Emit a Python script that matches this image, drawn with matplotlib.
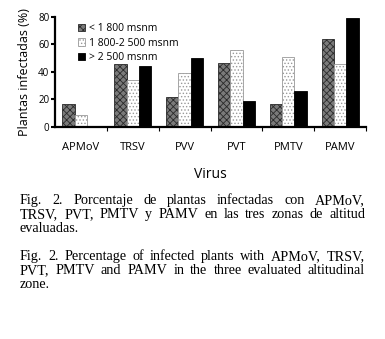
import numpy as np
import matplotlib
matplotlib.use('Agg')
import matplotlib.pyplot as plt

# data
virus = ['APMoV', 'TRSV', 'PVV', 'PVT', 'PMTV', 'PAMV']
low = [17, 45.5, 21.5, 46.5, 16.5, 64]      # < 1 800 msnm
mid = [8.5, 34, 39.5, 55.5, 50.5, 45.5]     # 1 800-2 500 msnm
high = [0, 44.5, 50, 19, 26, 79]            # > 2 500 msnm
labels = ['< 1 800 msnm', '1 800-2 500 msnm', '> 2 500 msnm']

caption_es = ['Fig. 2. Porcentaje de plantas infectadas con APMoV,',
              'TRSV, PVT, PMTV y PAMV en las tres zonas de altitud',
              'evaluadas.']
caption_en = ['Fig. 2. Percentage of infected plants with APMoV, TRSV,',
              'PVT, PMTV and PAMV in the three evaluated altitudinal',
              'zone.']

plt.rcParams['hatch.linewidth'] = 0.6
sans = 'Open Sans'
serif = 'Liberation Serif'

W, H = 385, 339
fig = plt.figure(figsize=(W/100, H/100), dpi=100)
ax = fig.add_axes([55/W, 1-127/H, 311/W, 110.3/H])

x = np.arange(len(virus))
bw = 0.237
ax.bar(x-bw, low, bw, facecolor='#7a7a7a', edgecolor='#2a2a2a', hatch='xxxxx',
       linewidth=0.6, label=labels[0])
ax.bar(x, mid, bw, facecolor='white', edgecolor='#999999', hatch='.....',
       linewidth=0.6, label=labels[1])
ax.bar(x+bw, high, bw, facecolor='black', edgecolor='black',
       linewidth=0.6, label=labels[2])

ax.set_xlim(-0.5, 5.5)
ax.set_ylim(0, 80)
ax.set_yticks([0, 20, 40, 60, 80])
ax.set_xticks(x)
ax.set_xticklabels(virus, fontsize=8, family=sans)
ax.tick_params(axis='x', length=0, pad=11)
ax.set_xticks(np.arange(0.5, 6.0, 1), minor=True)
ax.tick_params(axis='x', which='minor', length=3, width=0.8)
ax.tick_params(axis='y', length=3, width=1.5, labelsize=7, pad=1)
for t in ax.get_yticklabels():
    t.set_family(sans)
for s in ['top', 'right']:
    ax.spines[s].set_visible(False)
ax.spines['left'].set_linewidth(1.6)
ax.spines['bottom'].set_linewidth(1.6)

ax.set_ylabel('Plantas infectadas (%)', fontsize=9, family=sans, labelpad=5)
ax.set_xlabel('Virus', fontsize=10, family=sans, labelpad=10)

leg = ax.legend(loc='upper left', bbox_to_anchor=(0.06, 0.98), frameon=False,
                prop={'family': sans, 'size': 7.5}, handlelength=0.7,
                handleheight=0.7, handletextpad=0.4, labelspacing=0.35,
                borderaxespad=0)


def justified(lines, y0, dy, x0=20, x1=365, size=10.2):
    # y0 is the baseline of the first line, in pixels from the top
    r = fig.canvas.get_renderer()
    for i, line in enumerate(lines):
        y = 1 - (y0 + i*dy)/H
        words = line.split(' ')
        if i == len(lines)-1:
            fig.text(x0/W, y, line, family=serif, size=size, va='baseline')
            continue
        ts = [fig.text(0, y, w, family=serif, size=size, va='baseline') for w in words]
        widths = [t.get_window_extent(r).width for t in ts]
        gap = (x1 - x0 - sum(widths)) / (len(words)-1)
        xx = x0
        for t, w in zip(ts, widths):
            t.set_x(xx/W)
            xx += w + gap


justified(caption_es, 204, 13.8)
justified(caption_en, 260, 13.8)

fig.savefig('out.png', dpi=100)
